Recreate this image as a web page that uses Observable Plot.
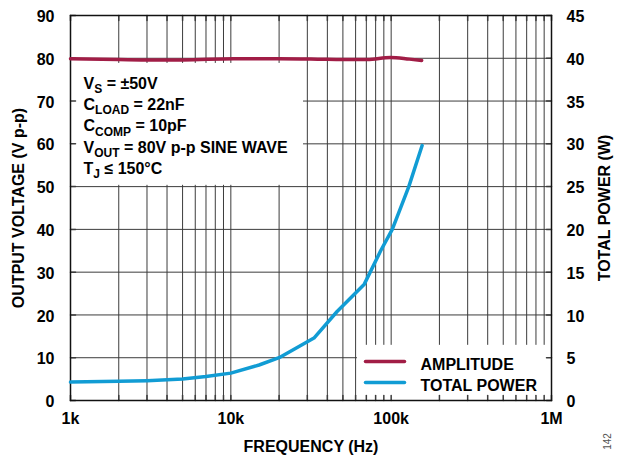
<!DOCTYPE html>
<html><head><meta charset="utf-8">
<script src="https://cdn.jsdelivr.net/npm/d3@7"></script>
<script src="https://cdn.jsdelivr.net/npm/@observablehq/plot@0.6"></script>
<style>body{margin:0;background:#fff} svg{display:block}</style>
</head><body><div id="chart"></div>
<script>
// ---- data ----
const ampFreq  = [1000, 2000, 3150, 5000, 10400, 20000, 34800, 50000, 71000, 99000, 130000, 155000];
const ampValue = [79.9, 79.7, 79.6, 79.6, 79.9,  79.9,  79.8,  79.7,  79.7,  80.2,  79.8,   79.5];
const powFreq  = [1000, 2000, 3000, 5000, 7000, 10000, 15000, 20000, 33000, 46000, 68000, 86000, 101600, 115000, 128800, 156000];
const powValue = [2.15, 2.25, 2.32, 2.5,  2.8,  3.2,   4.15,  5.0,   7.3,   10.4,  13.6,  17.5,  20.0,   22.6,   25.0,   29.8];
const xTickValues = [1e3, 1e4, 1e5, 1e6];
const xTickLabels = ["1k", "10k", "100k", "1M"];
const leftTickValues = [0, 10, 20, 30, 40, 50, 60, 70, 80, 90];
const rightTickLabels = [0, 5, 10, 15, 20, 25, 30, 35, 40, 45];
const seriesNames = ["AMPLITUDE", "TOTAL POWER"];
const seriesColors = ["#A11D46", "#119CD4"];
const conditions = ["V_{S} = ±50V", "C_{LOAD} = 22nF", "C_{COMP} = 10pF", "V_{OUT} = 80V p-p SINE WAVE", "T_{J} ≤ 150°C"];
const xTitle = "FREQUENCY (Hz)";
const yTitle = "OUTPUT VOLTAGE (V p-p)";
const y2Title = "TOTAL POWER (W)";
const figId = "142";

// ---- derived ----
const powerScale = 90 / 45; // right axis -> left axis units
const amp = ampFreq.map((f, i) => ({f, v: ampValue[i]}));
const pow = powFreq.map((f, i) => ({f, v: powValue[i] * powerScale}));
const xGrid = [];
for (let e = 3; e < 6; e++) for (let m = 1; m < 10; m++) xGrid.push(m * 10 ** e);
xGrid.push(1e6);

// annotation boxes (in data space)
const condBox = {x1: 1e3, x2: 28400, y1: 50.3, y2: 78.8};
const legendBox = {x1: 61600, x2: 1e6, y1: 0, y2: 12.9};

const tickShape = {draw(ctx, l) { ctx.moveTo(0, 0); ctx.lineTo(0, -l); }};
const tickLen = 5;
const font = "'Liberation Sans', Arial, Helvetica, sans-serif";
const gridColor = "#3c3c3c";

const marks = [
  Plot.ruleX(xGrid, {x: d => d, y1: 0, y2: 90, stroke: gridColor, strokeWidth: 1}),
  Plot.ruleY(leftTickValues, {y: d => d, x1: 1e3, x2: 1e6, stroke: gridColor, strokeWidth: 1}),
  Plot.rect([condBox], {x1: "x1", x2: "x2", y1: "y1", y2: "y2", fill: "white"}),
  Plot.rect([legendBox], {x1: "x1", x2: "x2", y1: "y1", y2: "y2", fill: "white"}),
  Plot.vector(xGrid, {x: d => d, y: 0, length: tickLen, rotate: 0, anchor: "start", shape: tickShape, stroke: gridColor}),
  Plot.vector(xGrid, {x: d => d, y: 90, length: tickLen, rotate: 180, anchor: "start", shape: tickShape, stroke: gridColor}),
  Plot.vector(leftTickValues, {x: 1e3, y: d => d, length: tickLen, rotate: 90, anchor: "start", shape: tickShape, stroke: gridColor}),
  Plot.vector(leftTickValues, {x: 1e6, y: d => d, length: tickLen, rotate: -90, anchor: "start", shape: tickShape, stroke: gridColor}),
  Plot.frame({stroke: "#111", strokeWidth: 1.5}),
  Plot.line(amp, {x: "f", y: "v", stroke: seriesColors[0], strokeWidth: 3.5, curve: "monotone-x"}),
  Plot.line(pow, {x: "f", y: "v", stroke: seriesColors[1], strokeWidth: 3.5, curve: "linear", strokeLinejoin: "round"}),
  Plot.axisX({ticks: xTickValues, tickFormat: d => xTickLabels[xTickValues.indexOf(d)], tickSize: 0, tickPadding: 12, fontSize: 16, fontWeight: "bold", label: null}),
  Plot.axisY({anchor: "left", ticks: leftTickValues, tickSize: 0, tickPadding: 16, fontSize: 16, fontWeight: "bold", dy: 1.5, label: null}),
  Plot.axisY({anchor: "right", ticks: leftTickValues, tickFormat: d => String(rightTickLabels[leftTickValues.indexOf(d)]), tickSize: 0, tickPadding: 15, fontSize: 16, fontWeight: "bold", dy: 1.5, label: null}),
  Plot.text([yTitle], {frameAnchor: "left", dx: -52, dy: 0, rotate: -90, textAnchor: "middle", lineAnchor: "middle", fontSize: 16, fontWeight: "bold", fill: "#000"}),
  Plot.text([y2Title], {frameAnchor: "right", dx: 53, dy: 0, rotate: -90, textAnchor: "middle", lineAnchor: "middle", fontSize: 16, fontWeight: "bold", fill: "#000"}),
  Plot.text([xTitle], {frameAnchor: "bottom", dy: 46, textAnchor: "middle", lineAnchor: "middle", fontSize: 16, fontWeight: "bold", fill: "#000"}),
  Plot.text([figId], {frameAnchor: "bottom-right", dx: 56, dy: 41, rotate: -90, textAnchor: "middle", lineAnchor: "middle", fontSize: 10, fill: "#555"}),
  // legend
  ...seriesNames.map((name, i) => Plot.vector([name], {frameAnchor: "bottom-right", dx: -186, dy: -39 + i * 21, length: 39, rotate: 90, anchor: "start", shape: tickShape, stroke: seriesColors[i], strokeWidth: 3.5})),
  ...seriesNames.map((name, i) => Plot.text([name], {frameAnchor: "bottom-right", dx: -131, dy: -36 + i * 21, textAnchor: "start", lineAnchor: "middle", fontSize: 16, fontWeight: "bold", fill: "#000"})),
  // conditions
  ...conditions.map((c, i) => Plot.text([c], {frameAnchor: "top-left", dx: 13, dy: 68 + i * 21.3, textAnchor: "start", lineAnchor: "middle", fontSize: 16, fontWeight: "bold", fill: "#000"}))
];

const chart = Plot.plot({
  width: 620, height: 457,
  marginTop: 15, marginRight: 69, marginBottom: 57, marginLeft: 70,
  style: {fontFamily: font, background: "white", overflow: "visible"},
  x: {type: "log", domain: [1e3, 1e6]},
  y: {domain: [0, 90]},
  marks
});

// subscripts
d3.select(chart).selectAll("text").each(function () {
  const t = this.textContent;
  if (!t.includes("_{")) return;
  const parts = t.split(/(_\{[^}]*\})/).filter(p => p);
  const sel = d3.select(this);
  sel.text(null);
  let sub = false;
  for (const p of parts) {
    if (p.startsWith("_{")) {
      sel.append("tspan").attr("font-size", "12px").attr("dy", 4.5).text(p.slice(2, -1));
      sub = true;
    } else {
      const ts = sel.append("tspan").text(p);
      if (sub) ts.attr("dy", -4.5);
      sub = false;
    }
  }
});

document.getElementById("chart").appendChild(chart);
</script>
</body></html>
